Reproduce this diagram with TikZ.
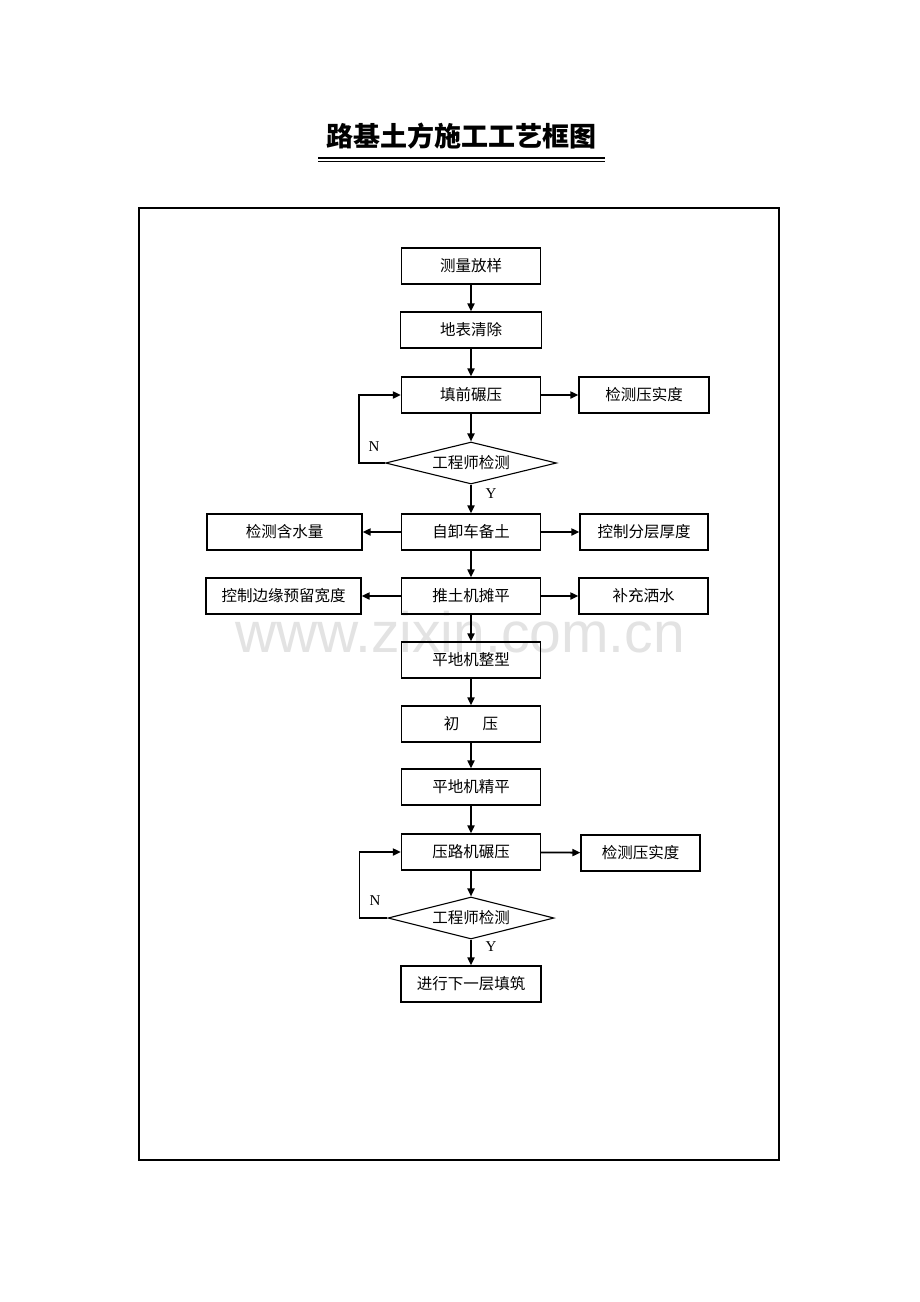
\documentclass[tikz,border=0pt]{standalone}
\usepackage{fontspec}
\setmainfont{Liberation Serif}
\newfontfamily\cjk{Noto Sans CJK SC}
\newfontfamily\wmfont{Liberation Sans}
\usetikzlibrary{shapes.geometric,arrows.meta}
\begin{document}
\begin{tikzpicture}[x=1pt,y=-1pt,
  box/.style={draw,line width=1.2pt,inner sep=0pt,minimum height=36pt,font=\cjk\fontsize{15.5}{18}\selectfont},
  dia/.style={draw,line width=1.1pt,shape=diamond,shape aspect=4,inner sep=0pt,font=\cjk\fontsize{15.5}{18}\selectfont},
  arr/.style={line width=1.8pt,-{Triangle[length=8pt,width=7pt]}},
  lbl/.style={font=\fontsize{15}{18}\selectfont,inner sep=0pt}]
\useasboundingbox (0,0) rectangle (920,1302);
\fill[white] (0,0) rectangle (920,1302);
% watermark
\node[text=black!11,font=\wmfont\fontsize{57}{60}\selectfont,inner sep=0pt] (wm) at (460,632) {www.zixin.com.cn};
% title
\node[font=\cjk\bfseries\fontsize{27}{30}\selectfont,inner sep=0pt] (title) at (461,136) {路基土方施工工艺框图};
\coordinate (ul1) at (318,157.5);
\coordinate (ur1) at (605,157.5);
\coordinate (ul2) at (318,161.5);
\coordinate (ur2) at (605,161.5);
\draw[line width=2pt] (ul1) -- (ur1);
\draw[line width=1pt] (ul2) -- (ur2);
% frame
\draw[line width=1.8pt] (139,208) rectangle (779,1160);
% main column
\node[box,minimum width=139pt] (n1) at (471,266) {测量放样};
\node[box,minimum width=141pt] (n2) at (471,330) {地表清除};
\node[box,minimum width=139pt] (n3) at (471,395) {填前碾压};
\node[box,minimum width=130pt] (r3) at (644,395) {检测压实度};
\node[dia,minimum width=171pt,minimum height=42pt] (d1) at (471,463) {工程师检测};
\node[box,minimum width=139pt] (n4) at (471,532) {自卸车备土};
\node[box,minimum width=155pt] (l4) at (284.5,532) {检测含水量};
\node[box,minimum width=128pt] (r4) at (644,532) {控制分层厚度};
\node[box,minimum width=139pt] (n5) at (471,596) {推土机摊平};
\node[box,minimum width=155pt] (l5) at (283.5,596) {控制边缘预留宽度};
\node[box,minimum width=129pt] (r5) at (643.5,596) {补充洒水};
\node[box,minimum width=139pt] (n6) at (471,660) {平地机整型};
\node[box,minimum width=139pt] (n7) at (471,724) {初\hspace{1.5em}压};
\node[box,minimum width=139pt] (n8) at (471,787) {平地机精平};
\node[box,minimum width=139pt] (n9) at (471,852) {压路机碾压};
\node[box,minimum width=119pt] (r9) at (640.5,853) {检测压实度};
\node[dia,minimum width=166pt,minimum height=42pt] (d2) at (471,918) {工程师检测};
\node[box,minimum width=140pt] (n10) at (471,984) {进行下一层填筑};
% labels
\node[lbl] (N1) at (374,447) {N};
\node[lbl] (Y1) at (491,494) {Y};
\node[lbl] (N2) at (375,901) {N};
\node[lbl] (Y2) at (491,947) {Y};
% connectors
\draw[arr] (n1) -- (n2);
\draw[arr] (n2) -- (n3);
\draw[arr] (n3) -- (r3);
\draw[arr] (n3) -- (d1);
\draw[arr] (d1) -- (n4);
\draw[arr] (d1.west) -- ++(-26,0) |- (n3.west);
\draw[arr] (n4) -- (l4);
\draw[arr] (n4) -- (r4);
\draw[arr] (n4) -- (n5);
\draw[arr] (n5) -- (l5);
\draw[arr] (n5) -- (r5);
\draw[arr] (n5) -- (n6);
\draw[arr] (n6) -- (n7);
\draw[arr] (n7) -- (n8);
\draw[arr] (n8) -- (n9);
\draw[arr] (n9) -- (r9);
\draw[arr] (n9) -- (d2);
\draw[arr] (d2.west) -- ++(-28,0) |- (n9.west);
\draw[arr] (d2) -- (n10);
\end{tikzpicture}
\end{document}
